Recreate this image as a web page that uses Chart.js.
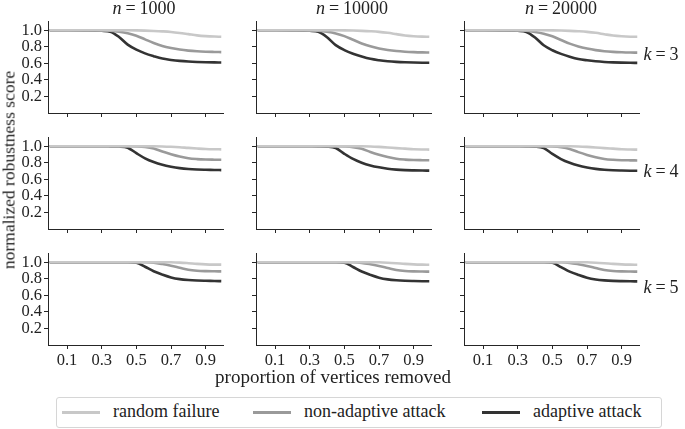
<!DOCTYPE html>
<html>
<head>
<meta charset="utf-8">
<script src="https://cdn.jsdelivr.net/npm/chart.js@4.4.0/dist/chart.umd.min.js"></script>
<style>
  html, body { margin: 0; padding: 0; background: #fff; }
  body { width: 685px; height: 429px; position: relative; overflow: hidden;
         font-family: "Liberation Serif", "DejaVu Serif", serif; color: #222; }
  canvas.panel { position: absolute; }
  .lbl { position: absolute; white-space: nowrap; font-size: 18px; transform: translate(-50%, -50%); }
  .lbl .eq { margin: 0 4px; }
  .xlab { font-size: 19px; }
  .ylab { font-size: 17.5px; transform: translate(-50%, -50%) rotate(-90deg); }
  .legend { position: absolute; left: 56px; top: 397px; width: 606px; height: 31px;
            border: 1px solid #d6d6d6; border-radius: 3px; box-sizing: border-box; }
  .legend .sw { position: absolute; top: 13px; width: 38px; height: 3px; }
  .legend .tx { position: absolute; top: 3px; font-size: 18px; white-space: nowrap; }
</style>
</head>
<body>
<script>
// ── data ──
var xs = [0, 0.1, 0.2, 0.3, 0.35, 0.4, 0.45, 0.5, 0.55, 0.6, 0.65, 0.7, 0.75, 0.8, 0.85, 0.9, 0.95, 0.99];

var colTitles = ['1000', '10000', '20000'];
var rowTitles = ['3', '4', '5'];
var seriesNames = ['random failure', 'non-adaptive attack', 'adaptive attack'];
var xTicks = [0.1, 0.3, 0.5, 0.7, 0.9];
var yTicks = [0.2, 0.4, 0.6, 0.8, 1.0];

// k = 3
var k3n1000_random   = [1,1,1,1,1,0.999,0.999,0.998,0.995,0.991,0.986,0.979,0.967,0.952,0.937,0.928,0.923,0.921];
var k3n1000_nonadapt = [1,1,0.999,0.997,0.994,0.982,0.963,0.933,0.889,0.846,0.81,0.785,0.766,0.753,0.745,0.74,0.737,0.735];
var k3n1000_adaptive = [1,1,0.998,0.993,0.982,0.918,0.826,0.765,0.72,0.686,0.657,0.641,0.629,0.621,0.616,0.613,0.611,0.61];
var k3n10000_random   = [1,1,1,1,1,0.999,0.999,0.998,0.996,0.992,0.987,0.98,0.968,0.952,0.936,0.927,0.922,0.92];
var k3n10000_nonadapt = [1,1,0.999,0.997,0.993,0.98,0.96,0.928,0.884,0.84,0.805,0.78,0.761,0.748,0.74,0.735,0.732,0.731];
var k3n10000_adaptive = [1,1,0.998,0.993,0.98,0.914,0.82,0.76,0.716,0.682,0.654,0.637,0.625,0.617,0.612,0.609,0.607,0.606];
var k3n20000_random   = [1,1,1,1,1,0.999,0.999,0.998,0.996,0.992,0.987,0.98,0.968,0.951,0.935,0.926,0.921,0.92];
var k3n20000_nonadapt = [1,1,0.999,0.997,0.993,0.979,0.958,0.926,0.882,0.838,0.803,0.778,0.759,0.746,0.738,0.733,0.73,0.729];
var k3n20000_adaptive = [1,1,0.998,0.993,0.979,0.912,0.818,0.758,0.714,0.68,0.652,0.636,0.624,0.616,0.611,0.608,0.606,0.605];

// k = 4
var k4n1000_random   = [1,1,1,1,1,1,1,1,0.999,0.999,0.997,0.993,0.987,0.979,0.972,0.966,0.963,0.962];
var k4n1000_nonadapt = [1,1,1,1,1,0.999,0.999,0.997,0.99,0.972,0.935,0.903,0.875,0.854,0.844,0.839,0.837,0.836];
var k4n1000_adaptive = [1,1,1,0.999,0.998,0.996,0.982,0.915,0.853,0.808,0.775,0.752,0.735,0.724,0.718,0.715,0.713,0.711];
var k4n10000_random   = [1,1,1,1,1,1,1,1,0.999,0.999,0.997,0.992,0.985,0.977,0.97,0.963,0.96,0.959];
var k4n10000_nonadapt = [1,1,1,1,1,0.999,0.999,0.996,0.988,0.968,0.93,0.897,0.869,0.848,0.838,0.833,0.831,0.83];
var k4n10000_adaptive = [1,1,1,0.999,0.998,0.995,0.978,0.908,0.846,0.801,0.768,0.745,0.728,0.717,0.711,0.708,0.706,0.705];
var k4n20000_random   = [1,1,1,1,1,1,1,1,0.999,0.999,0.997,0.992,0.985,0.977,0.97,0.963,0.96,0.958];
var k4n20000_nonadapt = [1,1,1,1,1,0.999,0.999,0.996,0.987,0.967,0.928,0.895,0.867,0.846,0.836,0.831,0.829,0.828];
var k4n20000_adaptive = [1,1,1,0.999,0.998,0.995,0.977,0.906,0.844,0.799,0.766,0.743,0.726,0.715,0.709,0.706,0.704,0.703];

// k = 5
var k5n1000_random   = [1,1,1,1,1,1,1,1,1,1,1,0.999,0.995,0.988,0.98,0.974,0.971,0.97];
var k5n1000_nonadapt = [1,1,1,1,1,1,1,1,0.999,0.993,0.977,0.957,0.933,0.909,0.897,0.892,0.89,0.889];
var k5n1000_adaptive = [1,1,1,1,1,1,1,0.994,0.945,0.89,0.85,0.816,0.795,0.784,0.778,0.775,0.773,0.771];
var k5n10000_random   = [1,1,1,1,1,1,1,1,1,1,1,0.999,0.994,0.987,0.979,0.973,0.97,0.969];
var k5n10000_nonadapt = [1,1,1,1,1,1,1,1,0.999,0.992,0.975,0.954,0.93,0.906,0.894,0.889,0.887,0.886];
var k5n10000_adaptive = [1,1,1,1,1,1,1,0.993,0.942,0.887,0.847,0.813,0.792,0.781,0.775,0.772,0.77,0.769];
var k5n20000_random   = [1,1,1,1,1,1,1,1,1,1,1,0.999,0.994,0.987,0.979,0.973,0.97,0.969];
var k5n20000_nonadapt = [1,1,1,1,1,1,1,1,0.999,0.992,0.975,0.954,0.93,0.906,0.894,0.889,0.887,0.886];
var k5n20000_adaptive = [1,1,1,1,1,1,1,0.993,0.941,0.886,0.846,0.812,0.791,0.78,0.774,0.771,0.769,0.768];

var grid = [
  [[k3n1000_random, k3n1000_nonadapt, k3n1000_adaptive],
   [k3n10000_random, k3n10000_nonadapt, k3n10000_adaptive],
   [k3n20000_random, k3n20000_nonadapt, k3n20000_adaptive]],
  [[k4n1000_random, k4n1000_nonadapt, k4n1000_adaptive],
   [k4n10000_random, k4n10000_nonadapt, k4n10000_adaptive],
   [k4n20000_random, k4n20000_nonadapt, k4n20000_adaptive]],
  [[k5n1000_random, k5n1000_nonadapt, k5n1000_adaptive],
   [k5n10000_random, k5n10000_nonadapt, k5n10000_adaptive],
   [k5n20000_random, k5n20000_nonadapt, k5n20000_adaptive]]
];

// ── layout / style ──
var colors  = ['#c8c8c8', '#9a9a9a', '#333333'];
var FONT    = '"Liberation Serif", "DejaVu Serif", serif';
var AXIS    = '#262626';
var colAxis = [48, 256, 464];   // x of left spine
var rowTop  = [16, 132, 248];   // y of top of plot area
var PW = 175, PH = 97, PADL = 40, PADT = 6, PADR = 6, PADB = 24;

function makePanel(r, c) {
  var cv = document.createElement('canvas');
  cv.className = 'panel';
  cv.width  = PADL + PW + PADR;
  cv.height = PADT + PH + PADB;
  cv.style.left = (colAxis[c] - PADL) + 'px';
  cv.style.top  = (rowTop[r] - PADT) + 'px';
  document.body.appendChild(cv);

  var showY = c === 0, showX = r === 2;
  var sets = grid[r][c].map(function(vals, i) {
    return {
      label: seriesNames[i],
      data: vals.map(function(v, j) { return { x: xs[j], y: v }; }),
      borderColor: colors[i],
      borderWidth: 2.6,
      pointRadius: 0,
      cubicInterpolationMode: 'monotone',
      fill: false
    };
  });

  new Chart(cv, {
    type: 'line',
    data: { datasets: sets },
    options: {
      responsive: false,
      animation: false,
      layout: { padding: { top: PADT, right: PADR, left: 0, bottom: 0 } },
      plugins: { legend: { display: false }, tooltip: { enabled: false } },
      scales: {
        x: {
          type: 'linear', min: -0.01, max: 1.0,
          afterBuildTicks: function(s) { s.ticks = xTicks.map(function(v) { return { value: v }; }); },
          afterFit: function(s) { s.height = PADB; },
          grid: { drawOnChartArea: false, drawTicks: true, tickLength: 4, color: AXIS },
          border: { display: true, color: AXIS, width: 1 },
          ticks: {
            color: showX ? '#222' : 'rgba(0,0,0,0)', padding: 2, maxRotation: 0, autoSkip: false,
            font: { family: FONT, size: 16.5 },
            callback: function(v) { return v.toFixed(1); }
          }
        },
        y: {
          min: 0, max: 1.1,
          afterBuildTicks: function(s) { s.ticks = yTicks.map(function(v) { return { value: v }; }); },
          afterFit: function(s) { s.width = PADL; },
          grid: { drawOnChartArea: false, drawTicks: true, tickLength: 4, color: AXIS },
          border: { display: true, color: AXIS, width: 1 },
          ticks: {
            color: showY ? '#222' : 'rgba(0,0,0,0)', padding: 2, autoSkip: false,
            font: { family: FONT, size: 16.5 },
            callback: function(v) { return v.toFixed(1); }
          }
        }
      }
    }
  });
}

function addLabel(html, x, y, cls) {
  var d = document.createElement('div');
  d.className = 'lbl' + (cls ? ' ' + cls : '');
  d.innerHTML = html;
  d.style.left = x + 'px';
  d.style.top  = y + 'px';
  document.body.appendChild(d);
}

for (var r = 0; r < 3; r++) {
  for (var c = 0; c < 3; c++) makePanel(r, c);
}

// column titles, row titles, axis titles
var titleX = [144, 352, 561];
colTitles.forEach(function(t, i) { addLabel('<i>n</i><span class="eq">=</span>' + t, titleX[i], 8); });
var rowY = [54, 171, 287];
rowTitles.forEach(function(t, i) { addLabel('<i>k</i><span class="eq">=</span>' + t, 661, rowY[i]); });
addLabel('normalized robustness score', 9, 170, 'ylab');
addLabel('proportion of vertices removed', 333, 377, 'xlab');

// legend
var lg = document.createElement('div');
lg.className = 'legend';
var swX = [5, 196, 425], txX = [56, 247, 476];
seriesNames.forEach(function(n, i) {
  lg.innerHTML += '<div class="sw" style="left:' + swX[i] + 'px;background:' + colors[i] + '"></div>' +
                  '<div class="tx" style="left:' + txX[i] + 'px">' + n + '</div>';
});
document.body.appendChild(lg);
</script>
</body>
</html>
